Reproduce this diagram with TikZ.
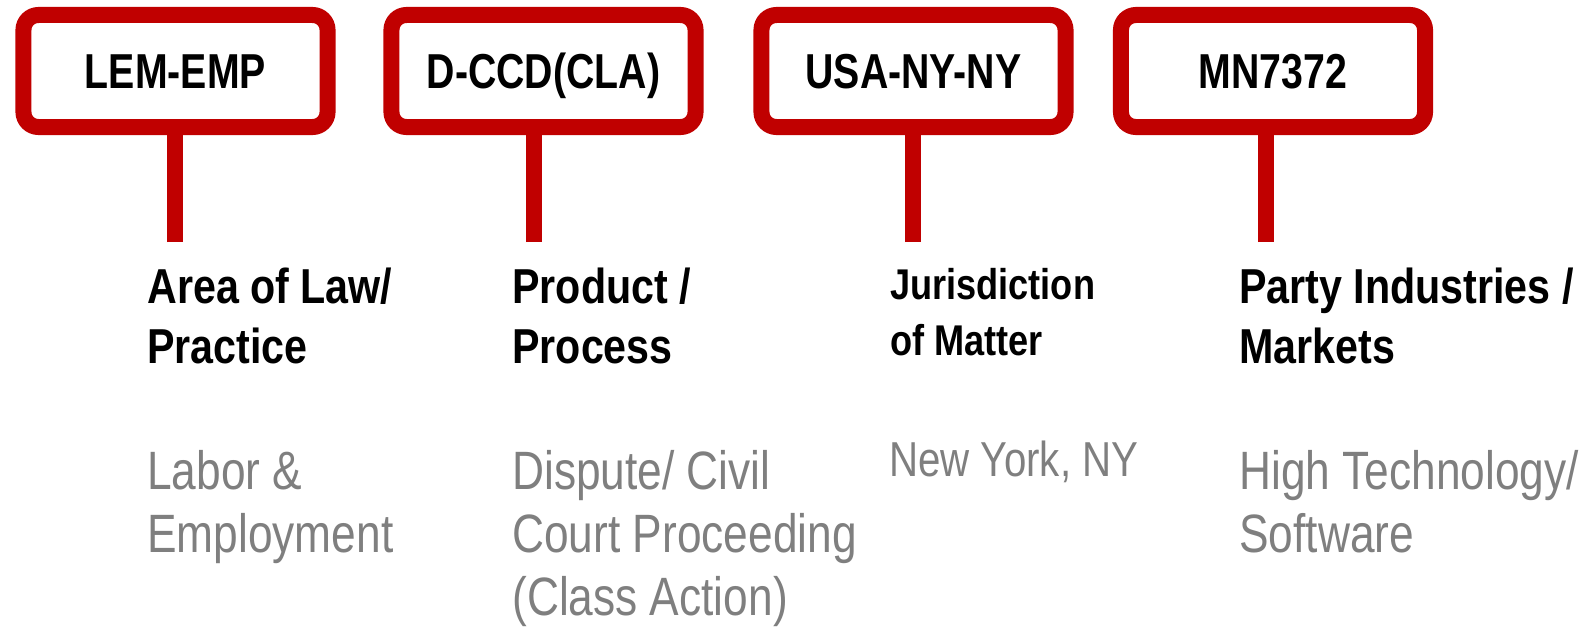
\documentclass[tikz,border=0pt]{standalone}
\usepackage{fontspec}
\setmainfont[FakeStretch=0.8]{Liberation Sans}
\newfontfamily\headfont[FakeStretch=0.84]{Liberation Sans}
\newfontfamily\greyfont[FakeStretch=0.82]{Liberation Sans}
\usetikzlibrary{calc}
\definecolor{tagred}{RGB}{192,0,0}
\definecolor{tagtext}{RGB}{127,127,127}
\tikzstyle{tag}=[rectangle,draw=tagred,line width=0.4cm,rounded corners=0.375cm,minimum width=7.6cm,minimum height=2.8cm,inner sep=0pt,text height=25pt,text depth=0pt,font=\fontsize{34.9pt}{42pt}\selectfont\bfseries]
\tikzstyle{stem} = [draw=tagred,line width=0.4cm]
\tikzstyle{heading} = [anchor=north west,inner sep=0pt,align=left,font=\headfont\fontsize{34.9pt}{42.7pt}\selectfont\bfseries]
\tikzstyle{example} = [anchor=north west,inner sep=0pt,align=left,text=tagtext,font=\greyfont\fontsize{38.4pt}{44.8pt}\selectfont]

\begin{document}
\begin{tikzpicture}[x=0.025cm,y=-0.025cm]
    \useasboundingbox (0,0) rectangle (1585,626);

    % code tags
    \node[tag] (lem) at (175.5,71) {LEM-EMP};
    \node[tag] (dcc) at (543.5,71) {D-CCD(CLA)};
    \node[tag] (usa) at (913.5,71) {USA-NY-NY};
    \node[tag] (mn) at (1273,71) {MN7372};

    % posts under the tags
    \foreach \name/\x in {lem/175,dcc/534,usa/913,mn/1266} {
        \coordinate (\name-foot) at (\x,242);
        \path[stem] (\name-foot) -- (\name-foot |- \name.south);
    }

    % what each part of the code stands for
    \node[heading] (area) at (147,268) {Area of Law/\\Practice};
    \node[heading] (product) at (512,268) {Product /\\Process};
    \node[heading,font=\headfont\fontsize{30.6pt}{39.8pt}\selectfont\bfseries] (juris) at (890,268) {Jurisdiction\\of Matter};
    \node[heading] (party) at (1239,268) {Party Industries /\\Markets};

    % example values
    \node[example] (labor) at (147,450) {Labor \&\\Employment};
    \node[example] (dispute) at (512,450) {Dispute/ Civil\\Court Proceeding\\(Class Action)};
    \node[example,font=\greyfont\fontsize{34.9pt}{42pt}\selectfont] (newyork) at (889,441) {New York, NY};
    \node[example] (hightech) at (1239,450) {High Technology/\\Software};

\end{tikzpicture}
\end{document}
